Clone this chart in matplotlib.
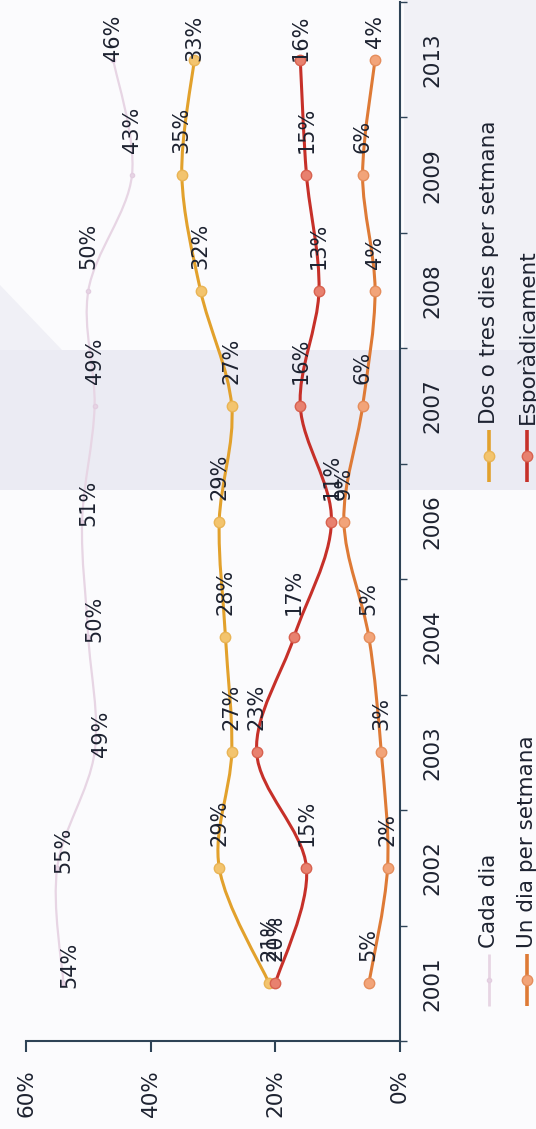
import numpy as np
import matplotlib.pyplot as plt
from matplotlib.path import Path
from matplotlib.patches import PathPatch, Polygon, Rectangle

YEARS = ["2001", "2002", "2003", "2004", "2006", "2007", "2008", "2009", "2013"]
CADA_DIA = [54, 55, 49, 50, 51, 49, 50, 43, 46]
DOS_TRES = [21, 29, 27, 28, 29, 27, 32, 35, 33]
UN_DIA = [5, 2, 3, 5, 9, 6, 4, 6, 4]
ESPORADIC = [20, 15, 23, 17, 11, 16, 13, 15, 16]
VALUE_TICKS = [0, 20, 40, 60]

INK = "#1d2230"
AXIS = "#2e4356"

# name, values, line colour, marker face, marker edge, line width, marker size
SERIES = [
    ("Cada dia", CADA_DIA, "#e7d5e4", "#e7d5e4", "#e2cde0", 1.6, 3),
    ("Dos o tres dies per setmana", DOS_TRES, "#e2a12c", "#f3c46e", "#e9b455", 2.2, 7.5),
    ("Un dia per setmana", UN_DIA, "#de7a36", "#f2a479", "#e58d5c", 2.2, 7.5),
    ("Esporàdicament", ESPORADIC, "#c63029", "#e8816f", "#d8614f", 2.2, 7.5),
]

W, H = 536, 1129
fig = plt.figure(figsize=(W / 100, H / 100), dpi=100)
fig.patch.set_facecolor("#fbfbfd")

# full-figure layer in pixel units for the page tint and the legend
bg = fig.add_axes([0, 0, 1, 1], zorder=0)
bg.set_xlim(0, W)
bg.set_ylim(H, 0)
bg.axis("off")
bg.add_patch(Rectangle((0, 350), W, 140, color="#ebebf3", lw=0))
bg.add_patch(Rectangle((404, 0), W - 404, 350, color="#f1f1f6", lw=0))
bg.add_patch(Polygon([(0, 285), (0, 350), (62, 350)], color="#f0f0f6", lw=0))

ax = fig.add_axes([26 / W, (H - 1041) / H, 374 / W, 1039 / H], zorder=1)
ax.set_facecolor("none")
ax.set_xlim(60, 0)
ax.set_ylim(-0.5, len(YEARS) - 0.5)

for side in ("top", "left"):
    ax.spines[side].set_visible(False)
for side in ("bottom", "right"):
    ax.spines[side].set_color(AXIS)
    ax.spines[side].set_linewidth(1.5)

ax.set_xticks(VALUE_TICKS)
ax.set_xticklabels([f"{v}%" for v in VALUE_TICKS])
ax.tick_params(axis="x", direction="out", length=8, width=1.5, color=AXIS,
               pad=12, labelsize=15.5, labelcolor=INK, labelrotation=90)

ax.yaxis.tick_right()
ax.set_yticks(range(len(YEARS)))
ax.set_yticklabels(YEARS)
ax.set_yticks(np.arange(-0.5, len(YEARS)), minor=True)
ax.tick_params(axis="y", which="major", length=0, pad=16, labelsize=15.5,
               labelcolor=INK, labelrotation=90)
ax.tick_params(axis="y", which="minor", direction="out", length=5,
               width=1.0, color=AXIS)
for lab in ax.get_yticklabels():
    lab.set_va("center")


def smooth_path(xs, ys):
    pts = np.column_stack([xs, ys]).astype(float)
    n = len(pts)
    verts, codes = [pts[0]], [Path.MOVETO]
    for i in range(n - 1):
        p0 = pts[i - 1] if i > 0 else pts[i]
        p1, p2 = pts[i], pts[i + 1]
        p3 = pts[i + 2] if i + 2 < n else pts[i + 1]
        verts += [p1 + (p2 - p0) / 6, p2 - (p3 - p1) / 6, p2]
        codes += [Path.CURVE4] * 3
    return Path(verts, codes)


# small label nudges (x, y in pixels) where the default placement differs
NUDGE = {("Cada dia", i): (6, -27) for i in range(5)}

idx = np.arange(len(YEARS))
for name, vals, lc, mfc, mec, lw, ms in SERIES:
    ax.add_patch(PathPatch(smooth_path(vals, idx), fill=False, edgecolor=lc,
                           lw=lw, zorder=3, capstyle="round"))
    ax.plot(vals, idx, ls="none", marker="o", ms=ms, mfc=mfc, mec=mec,
            mew=1.0, zorder=4)
    for i, v in enumerate(vals):
        if i == len(vals) - 1:
            ax.annotate(f"{v}%", (v, i), xytext=(0, 45),
                        textcoords="offset pixels", rotation=90,
                        rotation_mode="anchor", ha="right", va="center",
                        fontsize=15, color=INK, zorder=5)
            continue
        dx, dy = NUDGE.get((name, i), (0, 0))
        ax.annotate(f"{v}%", (v, i), xytext=(dx, 22 + dy),
                    textcoords="offset pixels", rotation=90,
                    rotation_mode="anchor", ha="left", va="center",
                    fontsize=15, color=INK, zorder=5)

# legend, two columns of rotated entries
LEGEND_SLOTS = [(489, 980), (489, 456), (527, 980), (527, 456)]
order = [0, 1, 2, 3]
for (lx, ly), k in zip(LEGEND_SLOTS, order):
    name, vals, lc, mfc, mec, lw, ms = SERIES[k]
    bg.plot([lx, lx], [ly - 26, ly + 26], color=lc, lw=lw + 0.4,
            solid_capstyle="butt")
    bg.plot([lx], [ly], ls="none", marker="o", ms=ms, mfc=mfc, mec=mec,
            mew=1.0)
    bg.text(lx, ly - 32, name, rotation=90, rotation_mode="anchor",
            ha="left", va="center", fontsize=15.5, color=INK)

fig.savefig("out.png", dpi=100, facecolor=fig.get_facecolor())
